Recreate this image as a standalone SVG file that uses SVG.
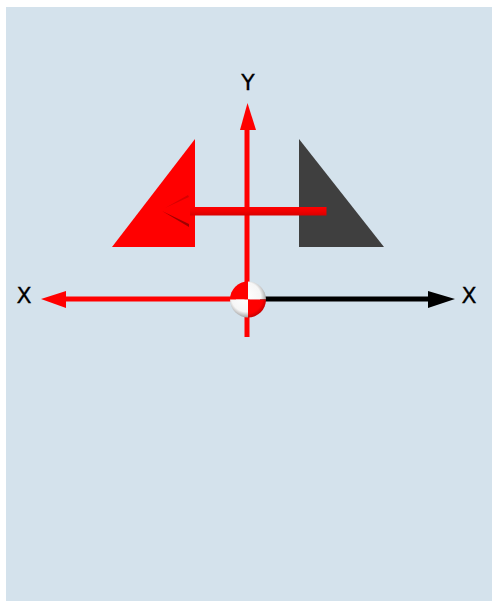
<svg xmlns="http://www.w3.org/2000/svg" width="492" height="601" viewBox="0 0 492 601">
<defs>
<style>
.lbl{font-family:"DejaVu Sans","Liberation Sans",sans-serif;font-size:22px;fill:#000;stroke:#000;stroke-width:0.300;text-anchor:middle}
</style>
<radialGradient id="w" gradientUnits="userSpaceOnUse" cx="246" cy="297" r="21"><stop offset="0" stop-color="#fff"/><stop offset="0.7" stop-color="#f6f6f6"/><stop offset="1" stop-color="#9a9a9a"/></radialGradient>
<radialGradient id="r" gradientUnits="userSpaceOnUse" cx="246" cy="297" r="21"><stop offset="0" stop-color="#ff0000"/><stop offset="0.8" stop-color="#ff0000"/><stop offset="1" stop-color="#c80000"/></radialGradient>
<linearGradient id="h" x1="0" y1="0" x2="0" y2="1"><stop offset="0" stop-color="#ff0000"/><stop offset="0.5" stop-color="#f00000"/><stop offset="1" stop-color="#d80000"/></linearGradient>
<clipPath id="ball"><circle cx="248" cy="299.500" r="18"/></clipPath>
</defs>
<rect width="492" height="601" fill="#fff"/>
<rect x="6" y="7" width="486" height="594" fill="#d4e2ec"/>
<g id="triangle-red"><polygon points="195,139 195,247 112,247" fill="#ff0000"/></g>
<g id="triangle-dark"><polygon points="299,139 299,247 384,247" fill="#3f3f3f"/></g>
<g id="connectors">
<rect id="axis-y" x="244.500" y="128" width="5" height="209" fill="#ff0000"/>
<polygon id="arrow-y" points="247.500,103 256,130 240,130" fill="#ff0000"/>
<rect id="axis-x-left" x="66" y="296.500" width="170" height="5" fill="#ff0000"/>
<polygon id="arrow-x-left" points="41,299 66,291 66,308" fill="#ff0000"/>
<rect id="axis-x-right" x="260" y="296.500" width="170" height="5" fill="#000"/>
<polygon id="arrow-x-right" points="455,299 428,291 428,308" fill="#000"/>
<rect id="axis-z" x="190" y="207" width="136.500" height="8.500" fill="url(#h)"/>
<polygon id="arrow-z-upper" points="165,208 188,195 189,197" fill="#d80000"/>
<polygon id="arrow-z-lower" points="162,211 189,224 189,227" fill="#a00000"/>
</g>
<g id="origin">
<g clip-path="url(#ball)">
<rect x="229" y="281" width="19" height="18.500" fill="url(#r)"/>
<rect x="248" y="281" width="19" height="18.500" fill="url(#w)"/>
<rect x="229" y="299.500" width="19" height="18.500" fill="url(#w)"/>
<rect x="248" y="299.500" width="19" height="18.500" fill="url(#r)"/>
</g>
</g>
<g id="labels">
<text class="lbl" x="248" y="90">Y</text>
<text class="lbl" x="24" y="302.500">X</text>
<text class="lbl" x="469" y="302.500">X</text>
</g>
</svg>
